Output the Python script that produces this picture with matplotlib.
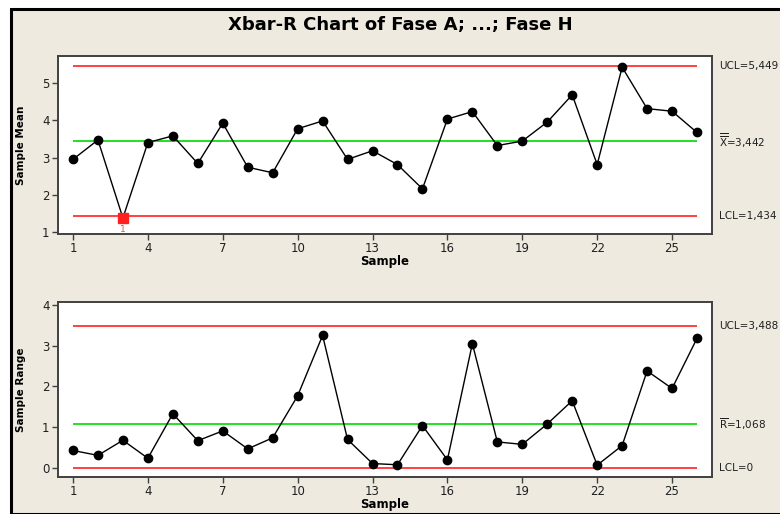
import numpy as np
import matplotlib.pyplot as plt
from matplotlib.patches import Rectangle

# sample numbers and subgroup statistics
samples = np.arange(1, 27)
xbar = [2.95, 3.47, 1.38, 3.40, 3.58, 2.84, 3.92, 2.74, 2.59, 3.77, 3.98, 2.95, 3.18,
        2.81, 2.16, 4.03, 4.23, 3.32, 3.44, 3.95, 4.68, 2.81, 5.42, 4.31, 4.24, 3.67]
rng = [0.43, 0.31, 0.68, 0.24, 1.33, 0.67, 0.91, 0.47, 0.74, 1.77, 3.25, 0.70, 0.11,
       0.08, 1.04, 0.20, 3.05, 0.64, 0.58, 1.08, 1.65, 0.07, 0.55, 2.38, 1.95, 3.18]
xbar_limits = [5.449, 3.442, 1.434]
r_limits = [3.488, 1.068, 0.0]
xbar_labels = ["UCL=5,449", r"$\overline{\overline{\mathrm{X}}}$=3,442", "LCL=1,434"]
r_labels = ["UCL=3,488", r"$\overline{\mathrm{R}}$=1,068", "LCL=0"]
flagged = [3]
xticks = [1, 4, 7, 10, 13, 16, 19, 22, 25]

bg = '#EEEAE0'
W, H = 780, 514
fig = plt.figure(figsize=(W / 100, H / 100), dpi=100, facecolor='white')
fig.patches.append(Rectangle((11 / W, 0), 1, (H - 9) / H, transform=fig.transFigure,
                             facecolor=bg, edgecolor='black', linewidth=2.2, zorder=-10))

fig.text(400 / W, 1 - 25 / H, "Xbar-R Chart of Fase A; ...; Fase H", ha='center', va='center',
         fontsize=13, fontweight='bold',
         family=['DejaVu Sans Condensed', 'Liberation Sans Narrow', 'DejaVu Sans'])


def panel(rect, vals, limits, labels, ylim, yticks, ylabel):
    l, t, r, b = rect
    ax = fig.add_axes([l / W, 1 - b / H, (r - l) / W, (b - t) / H])
    ax.set_facecolor('white')
    ax.hlines([limits[0], limits[2]], 1, 26, color='#FF4040', lw=1.4, zorder=1)
    ax.hlines(limits[1], 1, 26, color='#22E022', lw=1.4, zorder=1)
    ax.plot(samples, vals, color='black', lw=1, marker='o', ms=6, zorder=3)
    for s in flagged if vals is xbar else []:
        ax.plot(s, vals[s - 1], 's', color='#FF2020', ms=6.5, zorder=4)
        ax.annotate("1", xy=(s, vals[s - 1]), xytext=(0, -5), textcoords='offset points',
                    color='#D06030', fontsize=6.5, ha='center', va='top')
    ax.set_xlim(0.4, 26.6)
    ax.set_ylim(*ylim)
    ax.set_xticks(xticks)
    ax.set_yticks(yticks)
    ax.tick_params(direction='out', length=4, width=1, color='#404040', labelsize=8.5,
                   labelcolor='#202020', pad=2)
    for sp in ax.spines.values():
        sp.set_color('#404040')
        sp.set_linewidth(1.4)
    ax.set_xlabel("Sample", fontsize=8.5, fontweight='bold', labelpad=0)
    ax.set_ylabel(ylabel, fontsize=7.5, fontweight='bold', labelpad=12)
    for v, lab in zip(limits, labels):
        ax.annotate(lab, xy=(1, v), xycoords=('axes fraction', 'data'), xytext=(5, 0),
                    textcoords='offset points', va='center', ha='left', fontsize=7.5,
                    color='#202020', annotation_clip=False)
    return ax


panel((58, 56, 712, 234), xbar, xbar_limits, xbar_labels, (0.95, 5.72), [1, 2, 3, 4, 5], "Sample Mean")
panel((58, 302, 712, 477), rng, r_limits, r_labels, (-0.22, 4.07), [0, 1, 2, 3, 4], "Sample Range")

fig.savefig('out.png', dpi=100, facecolor=fig.get_facecolor())
